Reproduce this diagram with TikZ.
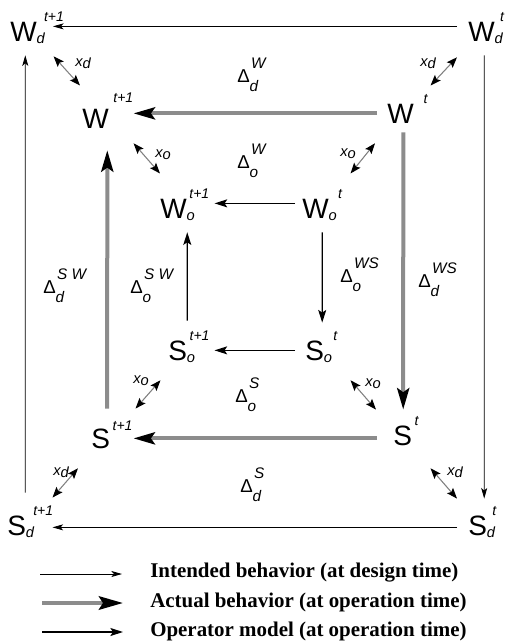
\documentclass[tikz,border=0pt]{standalone}
\usepackage{fontspec}
\setmainfont{Liberation Sans}
\newfontfamily\legendfont{Liberation Serif}
\usepackage{tikz}
\usetikzlibrary{arrows.meta}

\newcommand{\supf}{\fontsize{10.5}{10.5}\selectfont\itshape}
\newcommand{\subf}{\fontsize{11}{11}\selectfont\itshape}
\newcommand{\dscr}{\fontsize{11.5}{11.5}\selectfont\itshape}
\newcommand{\st}[4][15pt]{#2\rlap{\kern2pt\raisebox{#1}[0pt][0pt]{\supf #4}}\rlap{\raisebox{-1.5pt}[0pt][0pt]{\subf #3}}}
\newcommand{\dl}[2]{Δ\rlap{\kern1pt\raisebox{10.5pt}[0pt][0pt]{\dscr #2}}\rlap{\raisebox{-7pt}[0pt][0pt]{\dscr #1}}}
\newcommand{\xs}[1]{x\raisebox{-1.5pt}{#1}}

\begin{document}
\begin{tikzpicture}[x=0.75pt,y=-0.75pt,
		state/.style={anchor=base west, inner sep=0pt, font=\fontsize{21}{21}\selectfont},
		delta/.style={anchor=base west, inner sep=0pt, font=\fontsize{14}{14}\selectfont},
		xlab/.style={anchor=base west, inner sep=0pt, font=\fontsize{11}{11}\selectfont\itshape},
		legend/.style={anchor=base west, inner sep=0pt, font=\legendfont\bfseries\fontsize{15.7}{15.7}\selectfont},
		design/.style={line width=0.6pt, -{Stealth[length=8pt,width=4.5pt,inset=2pt]}},
		actual/.style={line width=3pt, gray!90, -{Stealth[length=16pt,width=9pt,inset=3pt,color=black]}},
		operator/.style={line width=0.9pt, -{Stealth[length=9.5pt,width=6pt,inset=2pt]}},
		link/.style={line width=0.8pt, gray, {Stealth[length=8pt,width=6pt,inset=1.5pt,color=black]}-{Stealth[length=8pt,width=6pt,inset=1.5pt,color=black]}}
	]
		\useasboundingbox (0,0) rectangle (505,643);

		\node[state] (Wd1) at (10,41) {\st{W}{d}{\kern3.5pt t+1}};
		\node[state] (Wd0) at (468,41) {\st{W}{d}{\kern2pt t}};
		\node[state] (W1) at (82,128) {\st[19pt]{W}{}{\kern1.5pt t+1}};
		\node[state] (W0) at (387,123) {\st{W}{}{\kern5.5pt t}};
		\node[state] (Wo1) at (160,218) {\st{W}{o}{t+1}};
		\node[state] (Wo0) at (302,218) {\st{W}{o}{\kern5pt t}};
		\node[state] (So1) at (168,360) {\st{S}{o}{t+1}};
		\node[state] (So0) at (305,360) {\st{S}{o}{\kern5pt t}};
		\node[state] (S1) at (91,448) {\st[13.5pt]{S}{}{t+1}};
		\node[state] (S0) at (393,445) {\st{S}{}{t}};
		\node[state] (Sd1) at (7,535) {\st{S}{d}{\kern3.5pt t+1}};
		\node[state] (Sd0) at (468,535) {\st{S}{d}{\kern2pt t}};

		\draw[design] ([shift={(-11,-5)}]Wd0.west) -- ([shift={(16,-5)}]Wd1.east);
		\draw[design] ([shift={(8.6,-22.6)}]Sd1.north) -- ([shift={(1.8,14)}]Wd1.south);
		\draw[design] ([shift={(2.8,14)}]Wd0.south) -- ([shift={(6.6,-16.6)}]Sd0.north);
		\draw[design] ([shift={(-11,2)}]Sd0.west) -- ([shift={(26.3,2)}]Sd1.east);

		\draw[actual] ([shift={(-10,0)}]W0.west) -- ([shift={(24.6,-5)}]W1.east);
		\draw[actual] ([shift={(2.8,9)}]W0.south) -- ([shift={(0.6,-15.6)}]S0.north);
		\draw[actual] ([shift={(-16,3)}]S0.west) -- ([shift={(23.3,0)}]S1.east);
		\draw[actual] ([shift={(6.6,-19.6)}]S1.north) -- ([shift={(11.8,22)}]W1.south);

		\draw[operator] ([shift={(-7,-5)}]Wo0.west) -- ([shift={(27.6,-5)}]Wo1.east);
		\draw[operator] ([shift={(6.8,14)}]Wo0.south) -- ([shift={(7.6,-17.6)}]So0.north);
		\draw[operator] ([shift={(-10,0)}]So0.west) -- ([shift={(27.3,0)}]So1.east);
		\draw[operator] ([shift={(9.6,-19.6)}]So1.north) -- ([shift={(13.8,14)}]Wo1.south);

		\draw[link] ([shift={(16.6,15)}]Wd1.south east) -- ([shift={(-2,-23)}]W1.north west);
		\draw[link] ([shift={(-11,16)}]Wd0.south west) -- ([shift={(16.6,-18)}]W0.north east);
		\draw[link] ([shift={(24.6,15)}]W1.south east) -- ([shift={(0,-25)}]Wo1.north west);
		\draw[link] ([shift={(-12,20)}]W0.south west) -- ([shift={(21.6,-25)}]Wo0.north east);
		\draw[link] ([shift={(25.3,-19.6)}]S1.north east) -- ([shift={(-26.7,19.7)}]So1.south east);
		\draw[link] ([shift={(-17,-15.6)}]S0.north west) -- ([shift={(26.3,19.7)}]So0.south east);
		\draw[link] ([shift={(-13,19.7)}]S1.south west) -- ([shift={(26.3,-17.6)}]Sd1.north east);
		\draw[link] ([shift={(18.3,22.7)}]S0.south east) -- ([shift={(-11,-16.6)}]Sd0.north west);

		\node[xlab] (xa) at (75,66) {\xs{d}};
		\node[xlab] (xb) at (420,66) {\xs{d}};
		\node[xlab] (xc) at (155,157) {\xs{o}};
		\node[xlab] (xe) at (340,156) {\xs{o}};
		\node[xlab] (xf) at (133,383) {\xs{o}};
		\node[xlab] (xg) at (365,386) {\xs{o}};
		\node[xlab] (xh) at (53,475) {\xs{d}};
		\node[xlab] (xi) at (447,475) {\xs{d}};

		\node[delta] (dWd) at (237,82) {\dl{d}{W}};
		\node[delta] (dWo) at (237,168) {\dl{o}{W}};
		\node[delta] (dWSo) at (340,282) {\dl{o}{WS}};
		\node[delta] (dWSd) at (418,287) {\dl{d}{WS}};
		\node[delta] (dSWd) at (43,293) {\dl{d}{S W}};
		\node[delta] (dSWo) at (130,293) {\dl{o}{S W}};
		\node[delta] (dSo) at (235,402) {\dl{o}{S}};
		\node[delta] (dSd) at (240,492) {\dl{d}{S}};

		\coordinate (k1a) at (40,574);
		\coordinate (k1b) at (122,574);
		\coordinate (k2a) at (42,603);
		\coordinate (k2b) at (123,603);
		\coordinate (k3a) at (42,632);
		\coordinate (k3b) at (123,632);
		\draw[design] (k1a) -- (k1b);
		\draw[actual, -{Stealth[length=18pt,width=10pt,inset=3pt,color=black]}] (k2a) -- (k2b);
		\draw[operator] (k3a) -- (k3b);
		\node[legend] (t1) at (150,577) {Intended behavior (at design time)};
		\node[legend] (t2) at (150,607) {Actual behavior (at operation time)};
		\node[legend] (t3) at (150,636) {Operator model (at operation time)};
	\end{tikzpicture}
\end{document}
